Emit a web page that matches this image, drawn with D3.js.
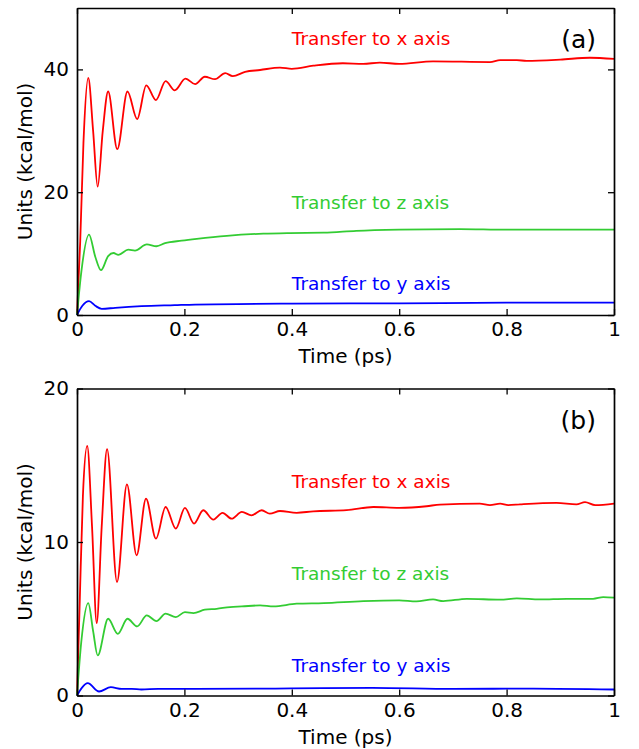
<!DOCTYPE html>
<html lang="en">
<head>
    <meta charset="UTF-8">
    <title>Energy transfer</title>
    <script src="https://d3js.org/d3.v7.min.js"></script>
    <style>
        body { margin: 0; background: #fff; }
        text { font-family: "DejaVu Sans", sans-serif; }
    </style>
</head>
<body>
<svg id="chart" width="639" height="749"></svg>
<script>
    // values: [time (ps), kcal/mol]
    let a_x = [[0,0],[0.006,12],[0.012,28],[0.021,38.6],[0.030,30],[0.0385,20.9],[0.048,30],[0.058,36.4],[0.075,27.0],[0.094,36.4],[0.112,31.9],[0.129,37.4],[0.147,35.0],[0.165,38.1],[0.182,36.6],[0.202,38.5],[0.220,37.6],[0.238,38.8],[0.257,38.4],[0.276,39.4],[0.290,38.9],[0.313,39.6],[0.341,39.9],[0.378,40.3],[0.400,40.1],[0.440,40.6],[0.495,41.0],[0.533,40.9],[0.564,41.1],[0.600,40.9],[0.663,41.3],[0.769,41.2],[0.788,41.5],[0.819,41.5],[0.837,41.4],[0.900,41.6],[0.955,41.9],[1.0,41.7]]
    let a_z = [[0,0],[0.008,7],[0.0224,13.1],[0.034,9.5],[0.0447,7.3],[0.058,9.6],[0.068,10.1],[0.077,9.8],[0.0955,10.65],[0.108,10.5],[0.130,11.5],[0.148,11.2],[0.164,11.7],[0.195,12.1],[0.223,12.4],[0.279,12.9],[0.347,13.25],[0.397,13.35],[0.459,13.4],[0.520,13.7],[0.600,13.9],[0.713,14.0],[0.800,13.9],[1.0,13.9]]
    let a_y = [[0,0],[0.010,1.5],[0.0224,2.25],[0.034,1.5],[0.046,1.0],[0.071,1.17],[0.120,1.43],[0.182,1.6],[0.220,1.7],[0.400,1.85],[0.600,1.9],[0.800,2.0],[1.0,2.0]]

    let b_x = [[0,0],[0.005,6],[0.011,13],[0.019,16.26],[0.028,11],[0.0367,4.72],[0.046,11],[0.056,16.05],[0.0745,7.39],[0.093,13.76],[0.111,9.13],[0.1285,12.83],[0.147,10.22],[0.165,12.28],[0.184,10.87],[0.201,12.22],[0.218,11.2],[0.235,12.07],[0.254,11.46],[0.271,11.9],[0.288,11.52],[0.307,11.96],[0.325,11.74],[0.344,12.07],[0.359,11.85],[0.378,12.02],[0.409,11.9],[0.440,12.0],[0.502,12.07],[0.552,12.28],[0.600,12.22],[0.651,12.33],[0.676,12.44],[0.750,12.5],[0.769,12.4],[0.788,12.5],[0.803,12.4],[0.825,12.45],[0.893,12.55],[0.930,12.45],[0.946,12.6],[0.965,12.4],[1.0,12.5]]
    let b_z = [[0,0],[0.008,3.5],[0.021,6.02],[0.030,4.2],[0.0385,2.61],[0.058,5.0],[0.076,4.02],[0.094,5.0],[0.112,4.5],[0.130,5.22],[0.148,4.85],[0.165,5.33],[0.184,5.11],[0.201,5.43],[0.217,5.37],[0.238,5.59],[0.260,5.65],[0.285,5.76],[0.307,5.8],[0.341,5.87],[0.366,5.8],[0.409,5.98],[0.459,6.02],[0.533,6.15],[0.600,6.2],[0.632,6.13],[0.663,6.26],[0.682,6.15],[0.726,6.3],[0.788,6.24],[0.819,6.33],[0.862,6.26],[0.912,6.3],[0.961,6.3],[0.980,6.41],[1.0,6.37]]
    let b_y = [[0,0],[0.009,0.5],[0.020,0.8],[0.041,0.26],[0.063,0.54],[0.083,0.43],[0.102,0.43],[0.120,0.39],[0.151,0.43],[0.220,0.43],[0.400,0.46],[0.550,0.5],[0.700,0.43],[0.850,0.45],[1.0,0.39]]

    let xTicks = [0, 0.2, 0.4, 0.6, 0.8, 1]
    let panels = [
        { tag: "(a)", top: 8, ymax: 50, yTicks: [0, 20, 40], series: [a_x, a_z, a_y], labelY: [44, 17.2, 4.1] },
        { tag: "(b)", top: 388.5, ymax: 20, yTicks: [0, 10, 20], series: [b_x, b_z, b_y], labelY: [13.5, 7.5, 1.55] }
    ]
    let names = ["Transfer to x axis", "Transfer to z axis", "Transfer to y axis"]
    let colors = ["#ff0000", "#33cc33", "#0000ff"]

    let left = 77, right = 614, plotH = 307
    let svg = d3.select("#chart")

    panels.forEach(function (p) {
        let g = svg.append("g").attr("transform", `translate(${left},${p.top})`)
        let w = right - left
        let x = d3.scaleLinear().domain([0, 1]).range([0, w])
        let y = d3.scaleLinear().domain([0, p.ymax]).range([plotH, 0])

        let line = d3.line().x(d => x(d[0])).y(d => y(d[1])).curve(d3.curveMonotoneX)

        p.series.forEach(function (s, i) {
            g.append("path").datum(s)
                .attr("d", line)
                .attr("fill", "none")
                .attr("stroke", colors[i])
                .attr("stroke-width", 1.8)
        })

        // axes with inward ticks on all four sides
        let bottom = g.append("g").attr("transform", `translate(0,${plotH})`)
            .call(d3.axisBottom(x).tickValues(xTicks).tickFormat(d => String(d)).tickSizeInner(-6).tickSizeOuter(0).tickPadding(7))
        let top = g.append("g").call(d3.axisTop(x).tickValues(xTicks).tickFormat("").tickSizeInner(-6).tickSizeOuter(0))
        let leftAx = g.append("g").call(d3.axisLeft(y).tickValues(p.yTicks).tickFormat(d3.format("d")).tickSizeInner(-6).tickSizeOuter(0).tickPadding(8))
        let rightAx = g.append("g").attr("transform", `translate(${w},0)`)
            .call(d3.axisRight(y).tickValues(p.yTicks).tickFormat("").tickSizeInner(-6).tickSizeOuter(0))
        ;[bottom, top, leftAx, rightAx].forEach(a => {
            a.select(".domain").attr("stroke", "#000").attr("stroke-width", 1.7)
            a.selectAll(".tick line").attr("stroke", "#000").attr("stroke-width", 1.3)
            a.selectAll(".tick text").attr("font-size", 20).attr("fill", "#000")
                .style("font-family", "DejaVu Sans, sans-serif")
        })

        g.append("text")
            .attr("x", w / 2).attr("y", plotH + 48)
            .attr("text-anchor", "middle").attr("font-size", 20)
            .text("Time (ps)")
        g.append("text")
            .attr("transform", `translate(-45,${plotH / 2}) rotate(-90)`)
            .attr("text-anchor", "middle").attr("font-size", 20)
            .text("Units (kcal/mol)")
        g.append("text")
            .attr("x", w - 18).attr("y", 40)
            .attr("text-anchor", "end").attr("font-size", 25)
            .text(p.tag)

        names.forEach(function (n, i) {
            g.append("text")
                .attr("x", x(0.4)).attr("y", y(p.labelY[i]))
                .attr("fill", colors[i]).attr("font-size", 18.5)
                .text(n)
        })
    })
</script>
</body>
</html>
